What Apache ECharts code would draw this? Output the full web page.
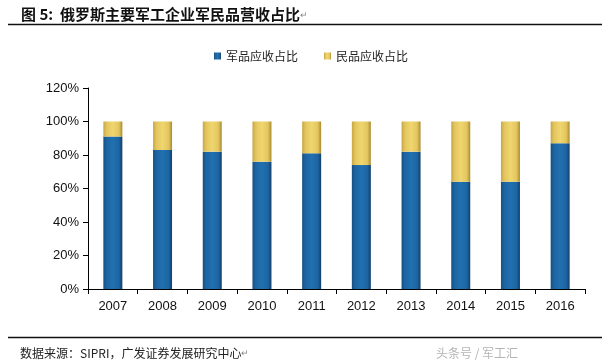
<!DOCTYPE html>
<html>
<head>
<meta charset="utf-8">
<script src="https://cdn.jsdelivr.net/npm/echarts@6/dist/echarts.min.js"></script>
<style>
html,body{margin:0;padding:0;background:#fff;}
#c{width:602px;height:363px;}
</style>
</head>
<body>
<div id="c"></div>
<script>
const categories = ['2007','2008','2009','2010','2011','2012','2013','2014','2015','2016'];
const militaryShare = [91, 83, 82, 76, 81, 74, 82, 64, 64, 87];
const civilShare = [9, 17, 18, 24, 19, 26, 18, 36, 36, 13];
const yTicks = [0, 20, 40, 60, 80, 100, 120];
const seriesNames = ['军品应收占比', '民品应收占比'];

const chart = echarts.init(document.getElementById('c'));
const blueGrad = new echarts.graphic.LinearGradient(0, 0, 1, 0, [
  {offset: 0, color: '#174f82'},
  {offset: 0.18, color: '#1d65a3'},
  {offset: 0.5, color: '#2170b0'},
  {offset: 0.82, color: '#1d65a3'},
  {offset: 1, color: '#123f6a'}
]);
const yellowGrad = new echarts.graphic.LinearGradient(0, 0, 1, 0, [
  {offset: 0, color: '#c7a644'},
  {offset: 0.18, color: '#e3c55f'},
  {offset: 0.5, color: '#f0d66e'},
  {offset: 0.82, color: '#e3c55f'},
  {offset: 1, color: '#a98b31'}
]);
const font = '"Noto Sans CJK SC", "Liberation Sans", Arial, sans-serif';
const latin = '"Liberation Sans", Arial, sans-serif';

chart.setOption({
  animation: false,
  backgroundColor: '#fff',
  textStyle: {fontFamily: font},
  title: [{
    text: '图 5:  俄罗斯主要军工企业军民品营收占比{r|↵}',
    left: 16, top: 2,
    textStyle: {fontSize: 15, fontWeight: 'bold', color: '#111', fontFamily: font,
      rich: {r: {fontSize: 9, color: '#888', fontWeight: 'normal'}}}
  }, {
    text: '数据来源：SIPRI，广发证券发展研究中心{r|↵}',
    left: 15, top: 342,
    textStyle: {fontSize: 12, fontWeight: 'normal', color: '#222', fontFamily: font,
      rich: {r: {fontSize: 9, color: '#888'}}}
  }, {
    text: '头条号 / 军工汇',
    left: 431, top: 342,
    textStyle: {fontSize: 12, fontWeight: 'normal', color: '#b5b5b5', fontFamily: font}
  }],
  graphic: [
    {type: 'line', shape: {x1: 8, y1: 24.5, x2: 602, y2: 24.5}, style: {stroke: '#111', lineWidth: 1.5}},
    {type: 'line', shape: {x1: 8, y1: 337.5, x2: 602, y2: 337.5}, style: {stroke: '#111', lineWidth: 1.5}}
  ],
  legend: {
    data: seriesNames,
    top: 45, left: 209,
    itemWidth: 7, itemHeight: 7, itemGap: 26,
    icon: 'rect',
    textStyle: {fontSize: 12, color: '#222', fontFamily: font}
  },
  grid: {left: 88, right: 17, top: 88, bottom: 74},
  xAxis: {
    type: 'category',
    data: categories,
    axisLine: {lineStyle: {color: '#000', width: 1}},
    axisTick: {show: true, length: 5, lineStyle: {color: '#000'}},
    axisLabel: {fontSize: 13, color: '#111', fontFamily: latin, margin: 11}
  },
  yAxis: {
    type: 'value',
    min: yTicks[0], max: yTicks[yTicks.length - 1], interval: yTicks[1] - yTicks[0],
    axisLine: {show: true, lineStyle: {color: '#000', width: 1}},
    axisTick: {show: true, length: 5, lineStyle: {color: '#000'}},
    splitLine: {show: false},
    axisLabel: {fontSize: 13, color: '#111', fontFamily: latin, margin: 9, formatter: '{value}%'}
  },
  series: [{
    name: seriesNames[0],
    type: 'bar', stack: 'a', barWidth: 19,
    data: militaryShare,
    itemStyle: {color: blueGrad},
    emphasis: {disabled: true}
  }, {
    name: seriesNames[1],
    type: 'bar', stack: 'a', barWidth: 19,
    data: civilShare,
    itemStyle: {color: yellowGrad},
    emphasis: {disabled: true}
  }],
  color: ['#1d5f9c', '#d9c35a']
});
</script>
</body>
</html>
